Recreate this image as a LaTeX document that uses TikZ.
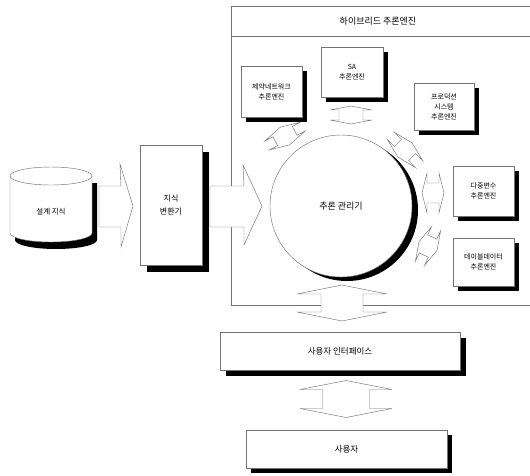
\documentclass[tikz,border=0pt]{standalone}
\usepackage{fontspec}
\setmainfont{Noto Sans CJK KR}
\begin{document}
\begin{tikzpicture}[x=1pt,y=-1pt,
  ln/.style={draw=black!55,line width=0.45pt},
  box/.style={ln,fill=white,inner sep=1pt,align=center,font=\fontsize{7}{10}\selectfont},
  sh/.style={preaction={fill=black,transform canvas={shift={(#1,#1)}}}},
  sh/.default=5,
  pics/dblarrow/.style n args={4}{code={
    \filldraw[ln,fill=white] (-#1,0) -- ({-#1+#2},#3) -- ({-#1+#2},#4) -- ({#1-#2},#4)
      -- ({#1-#2},#3) -- (#1,0) -- ({#1-#2},-#3) -- ({#1-#2},-#4) -- ({-#1+#2},-#4)
      -- ({-#1+#2},-#3) -- cycle;}}
]
\useasboundingbox (0,0) rectangle (530,475);

% hybrid engine frame
\draw[ln] (531,6) -- (231,6) -- (231,305) -- (531,305);
\draw[ln] (231,36) -- (531,36);
\node[font=\fontsize{9}{11}\selectfont] (title) at (378,21) {하이브리드 추론엔진};

% knowledge base cylinder
\fill[black] (15,183) -- (15,240) arc[start angle=180,end angle=0,x radius=41,y radius=9]
  -- (97,183) -- cycle;
\filldraw[ln,fill=white] (10,176) -- (10,233) arc[start angle=180,end angle=0,x radius=41,y radius=9]
  -- (92,176) arc[start angle=0,end angle=-180,x radius=41,y radius=9] -- cycle;
\draw[ln] (10,176) arc[start angle=180,end angle=0,x radius=41,y radius=9];
\node[font=\fontsize{7.5}{10}\selectfont] (kb) at (51,212) {설계 지식};

% arrow kb -> converter
\filldraw[ln,fill=white] (99,186) -- (121,186) -- (120,164) -- (133,206) -- (121,247)
  -- (121,227) -- (99,227) -- cycle;

% knowledge converter
\node[box,sh=7,minimum width=62,minimum height=120,font=\fontsize{8}{13}\selectfont]
  (conv) at (171,205) {지식\\변환기};

% arrow converter -> manager (crosses frame)
\filldraw[ln,fill=white] (210,186) -- (244,186) -- (243,165) -- (262,206) -- (244,245)
  -- (244,227) -- (210,227) -- cycle;

% inference manager
\fill[black] (347,210) circle[radius=71];
\node[circle,ln,fill=white,minimum size=142,inner sep=0pt,font=\fontsize{9}{11}\selectfont]
  (mgr) at (341,206) {추론 관리기};

% engines
\node[box,sh,minimum width=61,minimum height=51] (cn) at (271.5,91.5) {제약네트워크\\추론엔진};
\node[box,sh,minimum width=62,minimum height=50] (sa) at (352,72) {SA\\추론엔진};
\node[box,sh,minimum width=60,minimum height=47] (ps) at (444,106.5) {프로덕션\\시스템\\추론엔진};
\node[box,sh,minimum width=61,minimum height=50] (mv) at (483.5,191) {다중변수\\추론엔진};
\node[box,sh,minimum width=61,minimum height=48] (td) at (483.5,262) {테이블데이터\\추론엔진};

% small double arrows between engines and manager
\pic[rotate=90] at (351,115) {dblarrow={9}{4}{21}{12}};
\pic[rotate=-62] at (285,136) {dblarrow={10}{5}{20}{11}};
\pic[rotate=45] at (405,150) {dblarrow={10}{5}{20}{10}};
\pic at (433,193) {dblarrow={11}{5}{20}{10}};
\pic[rotate=-25] at (428,246) {dblarrow={10}{5}{19}{10}};

% manager <-> user interface
\pic[rotate=90] at (342,303) {dblarrow={18}{9}{45}{21}};

% user interface
\node[box,sh=6,minimum width=240,minimum height=38,font=\fontsize{8.5}{11}\selectfont]
  (ui) at (340,351) {사용자 인터페이스};

% ui <-> user
\pic[rotate=90] at (346,399) {dblarrow={18.5}{9}{46}{23.5}};

% user
\node[box,sh,minimum width=201,minimum height=38,font=\fontsize{8.5}{11}\selectfont]
  (user) at (346.5,449) {사용자};
\end{tikzpicture}
\end{document}
